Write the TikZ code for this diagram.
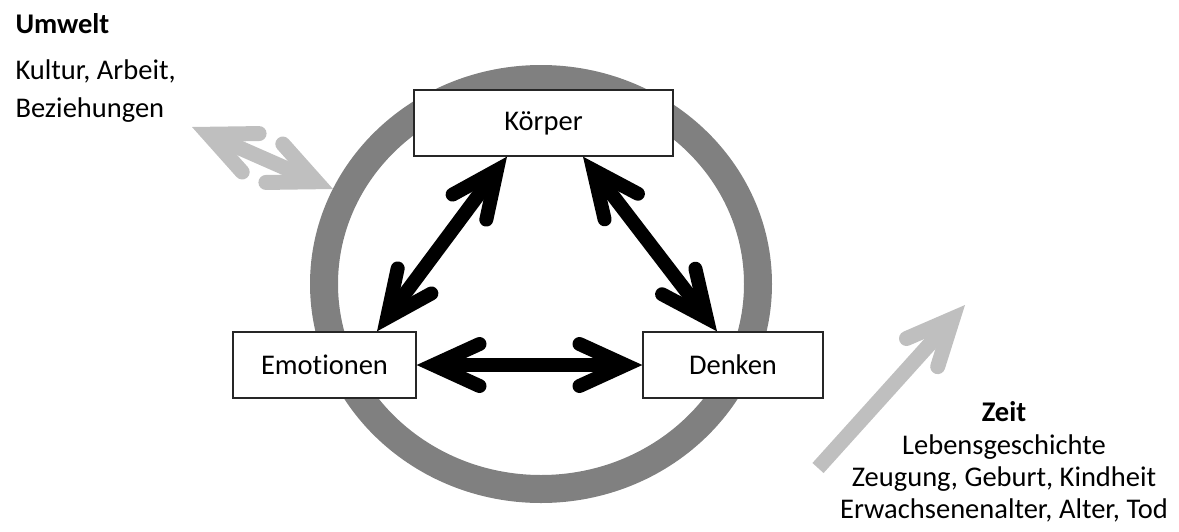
\documentclass[tikz,border=0pt]{standalone}
\usepackage{fontspec}
\setmainfont[Ligatures=NoCommon]{Carlito}
\usetikzlibrary{arrows.meta}

\tikzset{
    big/.style={font=\fontsize{28.5}{34}\selectfont},
    box/.style={draw=black!85, fill=white, line width=1.3pt, big, inner sep=0pt, minimum height=66pt},
    barb/.tip={Straight Barb[length=46pt, width=42pt, line cap=round]},
    link/.style={line width=14pt, barb-barb},
    hint/.style={line width=15pt, black!25},
}

\begin{document}
\begin{tikzpicture}[x=1pt, y=-1pt]
    \useasboundingbox (0,0) rectangle (1179,531);

    % ring
    
    \draw[line width=28pt, black!50] (541,284) ellipse [x radius=217, y radius=205];

    % boxes
    
    \node[box, minimum width=259pt] (koerper) at (543.5,123) {Körper};
    \node[box, minimum width=183pt] (emotionen) at (324.5,365) {Emotionen};
    \node[box, minimum width=180pt] (denken) at (733,365) {Denken};

    \draw[link] ([xshift=-36.5pt]koerper.south) -- ([xshift=52.5pt]emotionen.north);
    \draw[link] ([xshift=39.5pt]koerper.south) -- ([xshift=-16pt]denken.north);
    \draw[link] (emotionen.east) -- (denken.west);

    % umwelt
    
    \coordinate (umweltA) at (192,127);
    \coordinate (umweltB) at (333,189);
    \draw[hint, barb-barb] (umweltA) -- (umweltB);
    \node[big, anchor=base west] (umwelt) at (12,33) {\textbf{Umwelt}};
    \node[big, anchor=base west] (kultur) at (12,79) {Kultur, Arbeit,};
    \node[big, anchor=base west] (bezieh) at (12,117) {Beziehungen};

    % zeit
    
    \coordinate (zeitA) at (818,468);
    \coordinate (zeitB) at (965,305);
    \draw[hint, -barb] (zeitA) -- (zeitB);
    \node[big, anchor=base] (zeit) at (1004,421) {\textbf{Zeit}};
    \node[big, anchor=base] (leben) at (1004,454) {Lebensgeschichte};
    \node[big, anchor=base] (zeugung) at (1004,486) {Zeugung, Geburt, Kindheit};
    \node[big, anchor=base] (alter) at (1004,518) {Erwachsenenalter, Alter, Tod};

\end{tikzpicture}
\end{document}
